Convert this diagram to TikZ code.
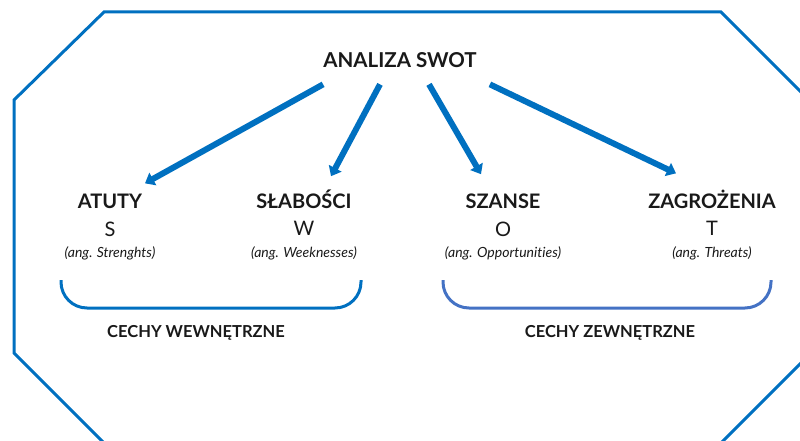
\documentclass[tikz,border=0pt]{standalone}
\usepackage{fontspec}
\setmainfont{Lato}[Ligatures=NoCommon]
\usetikzlibrary{arrows.meta,positioning}
\definecolor{swotblue}{RGB}{0,112,192}
\definecolor{bracepurple}{RGB}{68,114,196}
\definecolor{swottext}{RGB}{25,25,25}
\begin{document}
\begin{tikzpicture}[x=1pt,y=-1pt,>={Triangle[length=9pt,width=14pt]},
                    node distance=13pt,inner sep=0pt,text=swottext]
  \tikzstyle{title}=[font=\fontsize{20}{22}\selectfont\bfseries,anchor=base]
  \tikzstyle{letter}=[font=\fontsize{20}{22}\selectfont]
  \tikzstyle{note}=[font=\fontsize{14}{16}\selectfont\itshape]
  \tikzstyle{feature}=[font=\fontsize{16.5}{18}\selectfont\bfseries,anchor=base]
  \tikzstyle{arr}=[->,draw=swotblue,fill=swotblue,line width=6pt]
  \tikzstyle{brace}=[line width=3pt,rounded corners=26pt]

  \useasboundingbox (0,0) rectangle (800,441);
  % octagon frame, cut by the page edge
  \begin{scope}
    \clip (0,0) rectangle (800,441);
    \draw[swotblue,line width=3pt] (104,12) -- (721,12) -- (811,102) -- (811,353)
      -- (721,443) -- (104,443) -- (14,353) -- (14,100) -- cycle;
  \end{scope}

  \node[title,font=\fontsize{20.5}{22}\selectfont\bfseries,inner ysep=16pt] (root) at (400,68) {ANALIZA SWOT};

  \node[title] (atuty)      at (110,208) {ATUTY};
  \node[title] (slabosci)   at (304,208) {SŁABOŚCI};
  \node[title] (szanse)     at (503,208) {SZANSE};
  \node[title] (zagrozenia) at (712,208) {ZAGROŻENIA};

  \node[letter] (s) [below=of atuty]      {S};
  \node[letter] (w) [below=of slabosci]   {W};
  \node[letter] (o) [below=of szanse]     {O};
  \node[letter] (t) [below=of zagrozenia] {T};

  \node[note] (sn) [below=10pt of s] {(ang. Strenghts)};
  \node[note] (wn) [below=10pt of w] {(ang. Weeknesses)};
  \node[note] (on) [below=10pt of o] {(ang. Opportunities)};
  \node[note] (tn) [below=10pt of t] {(ang. Threats)};

  \draw[arr] (root.south west) -- ([shift={(35,-10)}]atuty.north);
  \draw[arr] ([shift={(-20,0)}]root.south) -- ([shift={(27,-13)}]slabosci.north);
  \draw[arr] ([shift={(29,0)}]root.south) -- ([shift={(-22,-19)}]szanse.north);
  \draw[arr] ([shift={(13,0)}]root.south east) -- ([shift={(-36,-16)}]zagrozenia.north);

  % braces
  \draw[brace,swotblue] (61,280) -- (61,308) -- (361,308) -- (361,280);
  \draw[brace,bracepurple] (443,280) -- (443,308) -- (771,308) -- (771,280);

  \node[feature] (internal) at (196,337) {CECHY WEWNĘTRZNE};
  \node[feature] (external) at (610,337) {CECHY ZEWNĘTRZNE};
\end{tikzpicture}
\end{document}
